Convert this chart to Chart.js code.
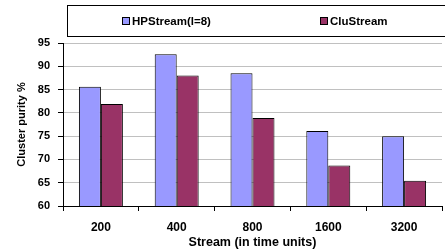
<!DOCTYPE html>
<html><head><meta charset="utf-8">
<script src="https://cdn.jsdelivr.net/npm/chart.js@4/dist/chart.umd.min.js"></script>
<style>html,body{margin:0;padding:0;background:#fff}#wrap{width:445px;height:250px;position:relative}</style>
</head><body><div id="wrap"><canvas id="c" width="445" height="250"></canvas></div>
<script>
const categories = ["200","400","800","1600","3200"];
const hpstream = [85.6, 92.6, 88.5, 76.1, 75.0];
const clustream = [81.9, 88.0, 78.9, 68.7, 65.4];
const seriesNames = ["HPStream(l=8)", "CluStream"];
const yTicks = [60,65,70,75,80,85,90,95];
const FONT = "'Liberation Sans', Arial, sans-serif";

const legendBox = {
  id: 'legendBox',
  afterDraw(chart) {
    const ctx = chart.ctx;
    ctx.save();
    ctx.strokeStyle = '#000'; ctx.lineWidth = 1;
    ctx.strokeRect(67.5, 5.5, 380, 31);
    ctx.font = 'bold 11.5px ' + FONT;
    ctx.textBaseline = 'middle';
    const xs = [122, 320];
    chart.data.datasets.forEach((ds, i) => {
      ctx.fillStyle = ds.backgroundColor;
      ctx.fillRect(xs[i] + 0.5, 17.5, 7, 7);
      ctx.strokeStyle = '#000';
      ctx.strokeRect(xs[i] + 0.5, 17.5, 7, 7);
      ctx.fillStyle = '#000';
      ctx.fillText(ds.label, xs[i] + 10, 21.5);
    });
    ctx.restore();
  }
};

new Chart(document.getElementById('c'), {
  type: 'bar',
  data: {
    labels: categories,
    datasets: [
      {label: seriesNames[0], data: hpstream, backgroundColor: '#9999FF', borderColor: '#000', borderWidth: 1},
      {label: seriesNames[1], data: clustream, backgroundColor: '#993366', borderColor: '#000', borderWidth: 1}
    ]
  },
  options: {
    responsive: false, animation: false, devicePixelRatio: 1,
    layout: {padding: {top: 43, right: 3, left: 11, bottom: 0}},
    datasets: {bar: {categoryPercentage: 0.58, barPercentage: 1}},
    plugins: {legend: {display: false}, tooltip: {enabled: false}},
    scales: {
      x: {
        offset: true,
        grid: {offset: true, drawOnChartArea: false, drawTicks: true, tickLength: 5, color: '#000'},
        border: {color: '#000', width: 1},
        ticks: {color: '#000', font: {family: FONT, size: 12, weight: 'bold'}, padding: 9},
        title: {display: true, text: 'Stream (in time units)', color: '#000', font: {family: FONT, size: 12.5, weight: 'bold'}, padding: {top: 0, bottom: 0}},
        afterFit(s) { s.height = 44; }
      },
      y: {
        min: 60, max: 95,
        afterBuildTicks(s) { s.ticks = yTicks.map(v => ({value: v})); },
        grid: {color: '#c0c0c0', tickLength: 5, tickColor: '#000'},
        border: {color: '#000', width: 1},
        ticks: {color: '#000', font: {family: FONT, size: 11, weight: 'bold'}, padding: 8},
        title: {display: true, text: 'Cluster purity %', color: '#000', font: {family: FONT, size: 11, weight: 'bold'}},
        afterFit(s) { s.width = 52; }
      }
    }
  },
  plugins: [legendBox]
});
</script></body></html>
